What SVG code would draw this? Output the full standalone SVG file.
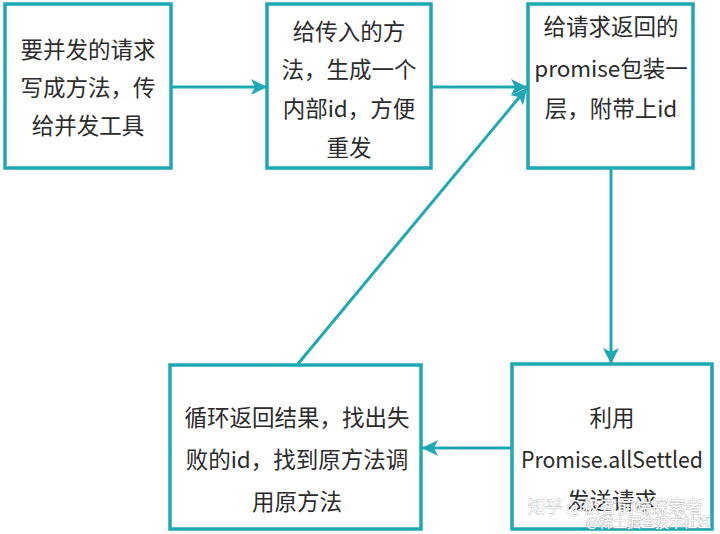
<svg xmlns="http://www.w3.org/2000/svg" width="720" height="534" viewBox="0 0 720 534">
<defs>
<style>
.box{fill:#fff;stroke:#1ea8b3;stroke-width:3.5}
.t{font-family:"Noto Sans CJK SC","Noto Sans",sans-serif;font-size:22.5px;fill:#2b2b2b;text-anchor:middle;dominant-baseline:central}
.c{stroke:#1ea8b3;stroke-width:3;fill:none}
.wm{font-family:"Noto Sans CJK SC",sans-serif;fill:#fff;stroke:#a8a8a8;stroke-width:0.7;paint-order:stroke}
</style>
<marker id="ah" markerUnits="userSpaceOnUse" markerWidth="18" markerHeight="16" refX="16" refY="8" orient="auto">
<path d="M0,0 L16,8 L0,16 L4,8 Z" fill="#1ea8b3"/>
</marker>
</defs>
<rect width="720" height="534" fill="#fff"/>
<g id="connectors">
<path class="c" d="M171,87 L267,87" marker-end="url(#ah)"/>
<path class="c" d="M431,87 L527,87" marker-end="url(#ah)"/>
<path class="c" d="M611,168 L611,364" marker-end="url(#ah)"/>
<path class="c" d="M512,448 L422,448" marker-end="url(#ah)"/>
<path class="c" d="M297,365 L527,88" marker-end="url(#ah)"/>
</g>
<g id="n1">
<rect class="box" x="5" y="4" width="166" height="164"/>
<text class="t" x="88" y="48">要并发的请求</text>
<text class="t" x="88" y="86">写成方法，传</text>
<text class="t" x="88" y="124">给并发工具</text>
</g>
<g id="n2">
<rect class="box" x="267" y="4" width="164" height="164"/>
<text class="t" x="349" y="30">给传入的方</text>
<text class="t" x="349" y="68">法，生成一个</text>
<text class="t" x="349" y="107">内部id，方便</text>
<text class="t" x="349" y="146">重发</text>
</g>
<g id="n3">
<rect class="box" x="528" y="4" width="165" height="164"/>
<text class="t" x="611" y="25">给请求返回的</text>
<text class="t" x="611" y="67">promise包装一</text>
<text class="t" x="611" y="107">层，附带上id</text>
</g>
<g id="n4">
<rect class="box" x="170" y="365" width="251" height="164"/>
<text class="t" x="297" y="416">循环返回结果，找出失</text>
<text class="t" x="297" y="458">败的id，找到原方法调</text>
<text class="t" x="297" y="500">用原方法</text>
</g>
<g id="n5">
<rect class="box" x="512" y="364" width="200" height="165"/>
<text class="t" x="612" y="416">利用</text>
<text class="t" x="612" y="458" textLength="182" lengthAdjust="spacingAndGlyphs">Promise.allSettled</text>
<text class="t" x="612" y="499">发送请求</text>
</g>
<g id="watermark">
<text class="wm" x="528" y="513" font-size="17.5" textLength="175" lengthAdjust="spacingAndGlyphs">知乎 @极客前端探索者</text>
<text class="wm" x="711" y="527" font-size="14" text-anchor="end">@稀土掘金技术社区</text>
</g>
</svg>
